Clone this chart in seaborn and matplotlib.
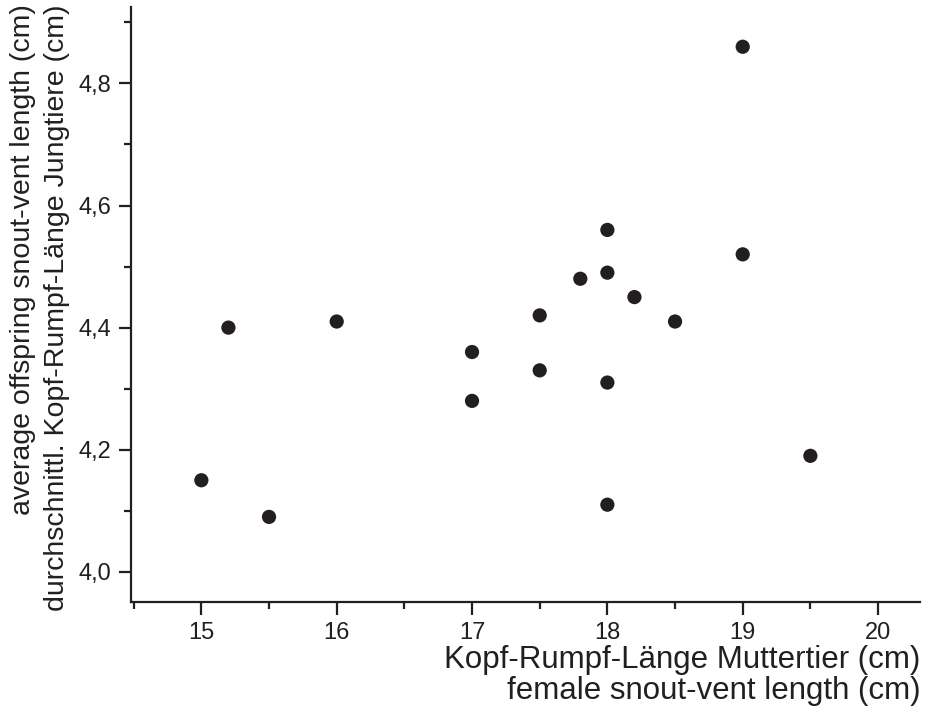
import numpy as np
import pandas as pd
import seaborn as sns
import matplotlib.pyplot as plt
from matplotlib.ticker import MultipleLocator, FuncFormatter

# female snout-vent length (cm) and average offspring snout-vent length (cm)
female_svl = [19.0, 18.0, 19.0, 17.8, 18.0, 18.2, 17.5, 18.5, 15.2, 16.0,
              17.0, 17.5, 18.0, 17.0, 19.5, 15.0, 18.0, 15.5]
offspring_svl = [4.86, 4.56, 4.52, 4.48, 4.49, 4.45, 4.42, 4.41, 4.40, 4.41,
                 4.36, 4.33, 4.31, 4.28, 4.19, 4.15, 4.11, 4.09]

xlabel_lines = ["Kopf-Rumpf-Länge Muttertier (cm)", "female snout-vent length (cm)"]
ylabel_lines = ["average offspring snout-vent length (cm)",
                "durchschnittl. Kopf-Rumpf-Länge Jungtiere (cm)"]

df = pd.DataFrame({"female": female_svl, "offspring": offspring_svl})

sns.set_style("ticks")
plt.rcParams['font.family'] = ['Liberation Sans', 'DejaVu Sans']
ink = "#231f20"

fig = plt.figure(figsize=(9.25, 7.07), dpi=100)
ax = fig.add_axes([0.1416, 0.148, 0.853, 0.842])

sns.scatterplot(data=df, x="female", y="offspring", ax=ax, color=ink,
                s=105, edgecolor="none", linewidth=0)

ax.set_xlim(14.48, 20.31)
ax.set_ylim(3.95, 4.925)
ax.xaxis.set_major_locator(MultipleLocator(1))
ax.xaxis.set_minor_locator(MultipleLocator(0.5))
ax.yaxis.set_major_locator(MultipleLocator(0.2))
ax.yaxis.set_minor_locator(MultipleLocator(0.1))
ax.yaxis.set_major_formatter(FuncFormatter(lambda v, p: f"{v:.1f}".replace(".", ",")))

for side in ["top", "right"]:
    ax.spines[side].set_visible(False)
for side in ["left", "bottom"]:
    ax.spines[side].set_color(ink)
    ax.spines[side].set_linewidth(1.6)

ax.tick_params(which="major", direction="out", length=9, width=1.6, color=ink,
               labelsize=17, labelcolor=ink, pad=5)
ax.tick_params(which="minor", direction="out", length=5, width=1.6, color=ink)
ax.set_xlabel("")
ax.set_ylabel("")

# x axis title: two right-aligned lines under the axis
for line, ypix in zip(xlabel_lines, [668, 699]):
    fig.text(0.995, 1 - ypix / 707, line, ha="right", va="baseline",
             fontsize=22.5, color=ink)

# y axis title: two rotated lines, ends aligned at the top
for line, xpix in zip(ylabel_lines, [30, 64]):
    fig.text(xpix / 925, 0.994, line, ha="right", va="baseline",
             rotation=90, rotation_mode="anchor", fontsize=20.5, color=ink)

fig.savefig("out.png", dpi=100)
